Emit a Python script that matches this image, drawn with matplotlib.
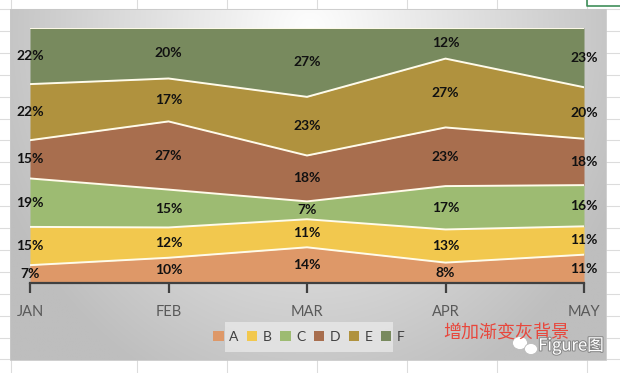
import numpy as np
import matplotlib.pyplot as plt
from matplotlib.patches import Rectangle, Circle, Ellipse
import matplotlib.patheffects as pe

months = ['JAN', 'FEB', 'MAR', 'APR', 'MAY']
series_names = ['A', 'B', 'C', 'D', 'E', 'F']
A = [7, 10, 14, 8, 11]
B = [15, 12, 11, 13, 11]
C = [19, 15, 7, 17, 16]
D = [15, 27, 18, 23, 18]
E = [22, 17, 23, 27, 20]
F = [22, 20, 27, 12, 23]
colors = ['#DE9868', '#F2C84E', '#9DBB72', '#A86E4E', '#B0923E', '#788A5E']
note_text = '增加渐变灰背景'
watermark = 'Figure图'

plt.rcParams['font.family'] = ['Lato', 'Noto Sans CJK SC', 'DejaVu Sans']

W, H = 620, 373
fig = plt.figure(figsize=(6.2, 3.73), dpi=100)
fig.patch.set_facecolor('white')

# background layer in pixel coordinates
bg = fig.add_axes([0, 0, 1, 1], zorder=0)
bg.set_xlim(0, W)
bg.set_ylim(H, 0)
bg.axis('off')

grid_c = '#dcdcdc'
for x in [11, 137, 227, 317, 407, 497, 587]:
    bg.plot([x, x], [0, H], color=grid_c, lw=0.8, zorder=0)
for y in np.arange(9, H, 21.9):
    bg.plot([0, W], [y, y], color=grid_c, lw=0.8, zorder=0)
# selected cell outline (top right)
bg.plot([587, 587, W], [0, 6, 6], color='#3f8f5a', lw=1.2, zorder=0.5)

# chart box with radial gray gradient
x0, x1, y0, y1 = 10, 606, 9, 360
nx, ny = 300, 180
xs = np.linspace(x0, x1, nx)
ys = np.linspace(y0, y1, ny)
XX, YY = np.meshgrid(xs, ys)
r = np.sqrt(((XX - 310) / 330.0) ** 2 + ((YY - 30) / 380.0) ** 2)
v = np.clip(254 - 62 * r, 190, 255) / 255.0
img = np.dstack([v, v, v])
bg.imshow(img, extent=[x0, x1, y1, y0], aspect='auto', zorder=1, interpolation='bilinear')
bg.add_patch(Rectangle((x0, y0), x1 - x0, y1 - y0, fill=False, ec='#c8c8c8', lw=0.6, zorder=1.2))

# legend background box
bg.add_patch(Rectangle((225, 322), 168, 30, fc='#ececec', ec='none', alpha=0.7, zorder=1.5))

# main plot axes
L, R, T, Bm = 30, 584, 28, 283
ax = fig.add_axes([L / W, 1 - Bm / H, (R - L) / W, (Bm - T) / H], zorder=2)
ax.patch.set_alpha(0)

data = np.array([A, B, C, D, E, F], dtype=float)
tot = data.sum(axis=0)
frac = data / tot
cum = np.vstack([np.zeros(len(months)), np.cumsum(frac, axis=0)])
xpos = np.arange(len(months))

for i, name in enumerate(series_names):
    ax.fill_between(xpos, cum[i], cum[i + 1], color=colors[i], lw=0, label=name, zorder=2)
for i in range(1, len(series_names) + 1):
    ax.plot(xpos, cum[i], color='#FFFBEA', lw=1.4, zorder=3)

for i in range(len(series_names)):
    for j in range(len(months)):
        yc = (cum[i][j] + cum[i + 1][j]) / 2
        ax.text(xpos[j], yc, f'{int(data[i][j])}%', ha='center', va='center',
                fontsize=10, fontweight='bold', color='#111111', zorder=5)

ax.set_xlim(0, len(months) - 1)
ax.set_ylim(0, 1)
for s in ['top', 'left', 'right']:
    ax.spines[s].set_visible(False)
ax.spines['bottom'].set_color('#404040')
ax.spines['bottom'].set_linewidth(1.6)
ax.spines['bottom'].set_zorder(4)
ax.set_yticks([])
ax.set_xticks(xpos)
ax.set_xticklabels(months)
ax.tick_params(axis='x', direction='out', length=7, width=1.6, color='#404040',
               labelcolor='#595959', labelsize=10.5, pad=9)

handles = [Rectangle((0, 0), 1, 1, fc=c, ec='none') for c in colors]
fig.legend(handles, series_names, loc='center', bbox_to_anchor=(309 / W, 1 - 337 / H),
           ncol=6, frameon=False, fontsize=10, handlelength=0.75, handleheight=0.75,
           handletextpad=0.4, columnspacing=0.6, labelcolor='#404040')

# annotation text
fig.text(506 / W, 1 - 334 / H, note_text, ha='center', va='center', fontsize=13,
         color='#E8473C', family=['Noto Sans CJK SC', 'DejaVu Sans'], zorder=6)

# watermark
bg.add_patch(Ellipse((520, 343), 15, 13, fc='white', ec='#bbbbbb', lw=0.6, zorder=7))
bg.add_patch(Ellipse((531, 349), 13, 11, fc='white', ec='#bbbbbb', lw=0.6, zorder=7))
fig.text(571 / W, 1 - 346 / H, watermark, ha='center', va='center', fontsize=12,
         color='white', family=['Noto Sans CJK SC', 'DejaVu Sans'], zorder=8,
         path_effects=[pe.withStroke(linewidth=1.5, foreground='#888888')])

fig.savefig('out.png', dpi=100)
